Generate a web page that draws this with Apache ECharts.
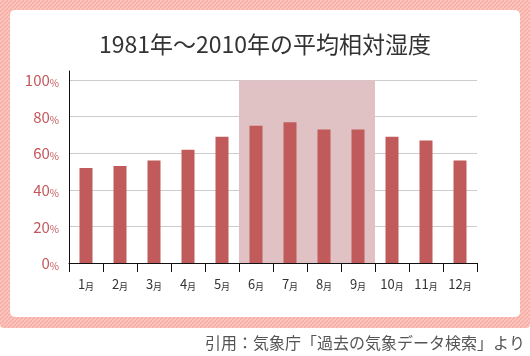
<!DOCTYPE html>
<html><head><meta charset="utf-8">
<script src="https://cdn.jsdelivr.net/npm/echarts@6/dist/echarts.min.js"></script>
<style>html,body{margin:0;padding:0;background:#fff}#c{width:530px;height:356px}</style>
</head><body><div id="c"></div>
<script>
const months = ['1','2','3','4','5','6','7','8','9','10','11','12'];
const humidity = [52, 53, 56, 62, 69, 75, 77, 73, 73, 69, 67, 56];
const rainySeason = [null, null, null, null, null, 100, 100, 100, 100, null, null, null];
const yTicks = [0, 20, 40, 60, 80, 100];
const titleText = '1981年〜2010年の平均相対湿度';
const sourceText = '引用：気象庁「過去の気象データ検索」より';

const FONT = '"Noto Sans CJK JP", "Noto Sans", sans-serif';

// stripe pattern for frame
const pc = document.createElement('canvas');
pc.width = 4; pc.height = 4;
const g = pc.getContext('2d');
g.fillStyle = '#fcc8c1';
g.fillRect(0, 0, 4, 4);
g.strokeStyle = '#f6aaa2';
g.lineWidth = 1.3;
for (let k = -8; k <= 8; k += 4) {
  g.beginPath(); g.moveTo(k, 4); g.lineTo(k + 4, 0); g.stroke();
}

const chart = echarts.init(document.getElementById('c'), null, {renderer: 'canvas'});
chart.setOption({
  backgroundColor: '#fff',
  animation: false,
  title: {
    text: titleText, left: 'center', top: 28,
    textStyle: {fontFamily: FONT, fontSize: 23, fontWeight: 'normal', color: '#333'}
  },
  graphic: [
    {type: 'rect', z: -10, shape: {x: 0, y: 0, width: 530, height: 328, r: [0, 0, 4, 4]},
     style: {fill: {image: pc, repeat: 'repeat'}}},
    {type: 'rect', z: -9, shape: {x: 10, y: 10, width: 510, height: 307, r: 5},
     style: {fill: '#fff'}},
    {type: 'text', right: 5, top: 335,
     style: {text: sourceText, font: '16px ' + FONT, fill: '#555'}}
  ],
  grid: {left: 69, right: 53, top: 71, bottom: 93, containLabel: false},
  xAxis: [{
    type: 'category', data: months, boundaryGap: true,
    axisLine: {show: true, lineStyle: {color: '#111', width: 1}},
    axisTick: {show: true, interval: 0, length: 9, lineStyle: {color: '#111'}},
    axisLabel: {
      interval: 0, margin: 14,
      formatter: v => '{n|' + v + '}{m|月}',
      rich: {
        n: {fontFamily: FONT, fontSize: 13, color: '#333', verticalAlign: 'bottom', lineHeight: 14},
        m: {fontFamily: FONT, fontSize: 9, color: '#333', verticalAlign: 'bottom', lineHeight: 14}
      }
    },
    splitLine: {show: false}
  }, {
    type: 'category', data: months, show: false, boundaryGap: true
  }],
  yAxis: {
    type: 'value', min: 0, max: 105, interval: 20,
    axisLine: {show: true, lineStyle: {color: '#111', width: 1}},
    axisTick: {show: false},
    splitLine: {show: true, showMinLine: false, showMaxLine: false, lineStyle: {color: '#cccccc', width: 1}},
    axisLabel: {
      margin: 10,
      formatter: v => yTicks.indexOf(v) >= 0 ? '{n|' + v + '}{p|%}' : '',
      rich: {
        n: {fontFamily: FONT, fontSize: 15, color: '#c4575b', verticalAlign: 'bottom', lineHeight: 16},
        p: {fontFamily: FONT, fontSize: 10, color: '#c4575b', verticalAlign: 'bottom', lineHeight: 15}
      }
    }
  },
  series: [{
    type: 'bar', xAxisIndex: 1, data: rainySeason, barWidth: '100%',
    itemStyle: {color: '#e1c2c4'}, silent: true, z: 1
  }, {
    type: 'bar', xAxisIndex: 0, data: humidity, barWidth: 13,
    itemStyle: {color: '#c05a5b'}, z: 3
  }]
});
</script></body></html>
